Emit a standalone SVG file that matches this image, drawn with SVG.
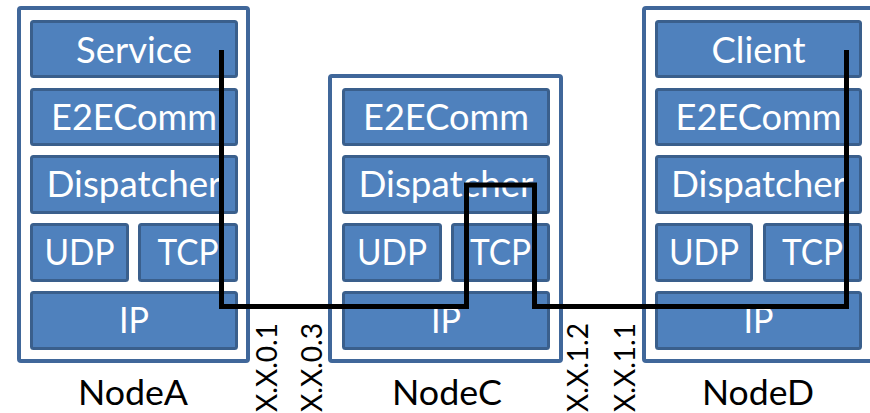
<svg xmlns="http://www.w3.org/2000/svg" width="870" height="413" viewBox="0 0 870 413">
  <style>
    .frame { fill: #ffffff; stroke: #40679a; stroke-width: 4; }
    .layer { fill: #4f81bd; stroke: #3a5f8c; stroke-width: 3; }
    .lt { font-family: Lato, "Open Sans", sans-serif; font-size: 36px; fill: #ffffff; text-anchor: middle; }
    .name { font-family: Lato, "Open Sans", sans-serif; font-size: 34px; fill: #000000; text-anchor: middle; }
    .addr { font-family: Lato, "Open Sans", sans-serif; font-size: 28px; fill: #000000; text-anchor: middle; }
    .wire { fill: none; stroke: #000000; stroke-width: 5; stroke-linejoin: miter; stroke-linecap: butt; }
  </style>

  <!-- NodeA: full stack with Service on top -->
  <g id="nodeA">
    <rect class="frame" x="19" y="8" width="229" height="353" rx="2"/>
    <rect class="layer" x="31.5" y="21.5" width="205" height="55" rx="2"/>
    <rect class="layer" x="31.5" y="89.5" width="205" height="55" rx="2"/>
    <rect class="layer" x="31.5" y="156.5" width="205" height="56" rx="2"/>
    <rect class="layer" x="31.5" y="224.5" width="96" height="56" rx="2"/>
    <rect class="layer" x="139.5" y="224.5" width="97" height="56" rx="2"/>
    <rect class="layer" x="31.5" y="292.5" width="205" height="56" rx="2"/>
    <text class="lt" x="134" y="63" textLength="116" lengthAdjust="spacingAndGlyphs">Service</text>
    <text class="lt" x="134" y="130" textLength="166" lengthAdjust="spacingAndGlyphs">E2EComm</text>
    <text class="lt" x="134" y="197" textLength="175" lengthAdjust="spacingAndGlyphs">Dispatcher</text>
    <text class="lt" x="79.5" y="265" textLength="70" lengthAdjust="spacingAndGlyphs">UDP</text>
    <text class="lt" x="188" y="265" textLength="61" lengthAdjust="spacingAndGlyphs">TCP</text>
    <text class="lt" x="134" y="333" textLength="30" lengthAdjust="spacingAndGlyphs">IP</text>
    <text class="name" x="133" y="405" textLength="110" lengthAdjust="spacingAndGlyphs">NodeA</text>
  </g>

  <!-- NodeC: relay stack, no application layer -->
  <g id="nodeC">
    <rect class="frame" x="330" y="76" width="231" height="285" rx="2"/>
    <rect class="layer" x="343.5" y="89.5" width="205" height="55" rx="2"/>
    <rect class="layer" x="343.5" y="156.5" width="205" height="56" rx="2"/>
    <rect class="layer" x="343.5" y="224.5" width="97" height="56" rx="2"/>
    <rect class="layer" x="452.5" y="224.5" width="96" height="56" rx="2"/>
    <rect class="layer" x="343.5" y="292.5" width="205" height="56" rx="2"/>
    <text class="lt" x="446" y="130" textLength="166" lengthAdjust="spacingAndGlyphs">E2EComm</text>
    <text class="lt" x="446" y="197" textLength="175" lengthAdjust="spacingAndGlyphs">Dispatcher</text>
    <text class="lt" x="392" y="265" textLength="70" lengthAdjust="spacingAndGlyphs">UDP</text>
    <text class="lt" x="500.5" y="265" textLength="61" lengthAdjust="spacingAndGlyphs">TCP</text>
    <text class="lt" x="446" y="333" textLength="30" lengthAdjust="spacingAndGlyphs">IP</text>
    <text class="name" x="447" y="405" textLength="110" lengthAdjust="spacingAndGlyphs">NodeC</text>
  </g>

  <!-- NodeD: full stack with Client on top -->
  <g id="nodeD">
    <rect class="frame" x="644" y="8" width="240" height="353" rx="2"/>
    <rect class="layer" x="656.5" y="21.5" width="204" height="55" rx="2"/>
    <rect class="layer" x="656.5" y="89.5" width="204" height="55" rx="2"/>
    <rect class="layer" x="656.5" y="156.5" width="204" height="56" rx="2"/>
    <rect class="layer" x="656.5" y="224.5" width="95" height="56" rx="2"/>
    <rect class="layer" x="764.5" y="224.5" width="96" height="56" rx="2"/>
    <rect class="layer" x="656.5" y="292.5" width="204" height="56" rx="2"/>
    <text class="lt" x="758.5" y="63" textLength="94" lengthAdjust="spacingAndGlyphs">Client</text>
    <text class="lt" x="758.5" y="130" textLength="166" lengthAdjust="spacingAndGlyphs">E2EComm</text>
    <text class="lt" x="758.5" y="197" textLength="175" lengthAdjust="spacingAndGlyphs">Dispatcher</text>
    <text class="lt" x="704" y="265" textLength="70" lengthAdjust="spacingAndGlyphs">UDP</text>
    <text class="lt" x="812.5" y="265" textLength="61" lengthAdjust="spacingAndGlyphs">TCP</text>
    <text class="lt" x="758.5" y="333" textLength="30" lengthAdjust="spacingAndGlyphs">IP</text>
    <text class="name" x="758" y="405" textLength="112" lengthAdjust="spacingAndGlyphs">NodeD</text>
  </g>

  <!-- interface addresses on each link end -->
  <g id="addresses">
    <text class="addr" transform="translate(277,367.5) rotate(-90)" textLength="89" lengthAdjust="spacingAndGlyphs">X.X.0.1</text>
    <text class="addr" transform="translate(322,367.5) rotate(-90)" textLength="89" lengthAdjust="spacingAndGlyphs">X.X.0.3</text>
    <text class="addr" transform="translate(588,367.5) rotate(-90)" textLength="89" lengthAdjust="spacingAndGlyphs">X.X.1.2</text>
    <text class="addr" transform="translate(635,367.5) rotate(-90)" textLength="89" lengthAdjust="spacingAndGlyphs">X.X.1.1</text>
  </g>

  <!-- message path: Service down to IP, up through NodeC's Dispatcher, up to Client -->
  <g id="connectors">
    <path class="wire" d="M221.5,50 V306.5 H466.5 V185 H534.5 V306.5 H846.5 V50"/>
  </g>
</svg>
